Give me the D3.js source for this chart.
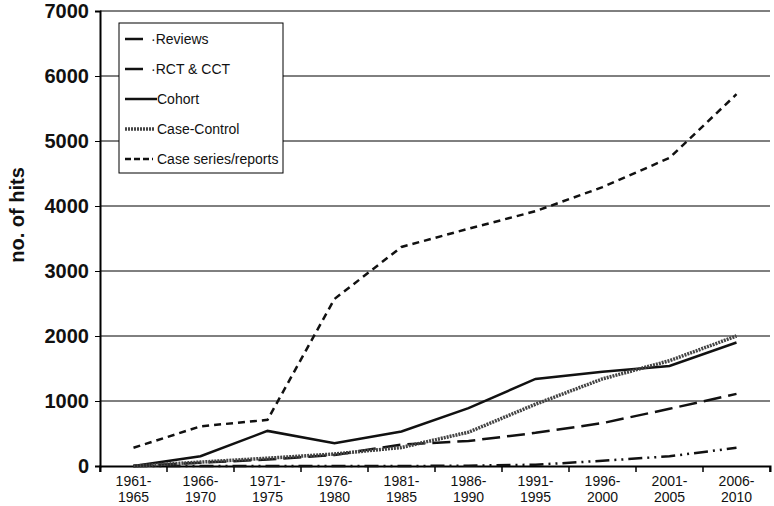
<!DOCTYPE html>
<html>
<head>
<meta charset="utf-8">
<script src="https://cdn.jsdelivr.net/npm/d3@7"></script>
<style>
  body { margin: 0; background: #fff; }
  text { font-family: "Liberation Sans", Arial, sans-serif; }
</style>
</head>
<body>
<script>
var periods = ["1961-1965", "1966-1970", "1971-1975", "1976-1980", "1981-1985",
               "1986-1990", "1991-1995", "1996-2000", "2001-2005", "2006-2010"];
var reviews     = [0, 0, 0, 0, 0, 5, 20, 80, 150, 280];
var rctCct      = [0, 50, 100, 170, 330, 385, 510, 660, 880, 1110];
var cohort      = [0, 150, 540, 350, 530, 890, 1340, 1450, 1540, 1900];
var caseControl = [0, 60, 120, 185, 285, 520, 950, 1340, 1620, 2000];
var caseSeries  = [280, 610, 710, 2570, 3370, 3650, 3920, 4290, 4740, 5720];
var yTicks = [0, 1000, 2000, 3000, 4000, 5000, 6000, 7000];

var series = [
  { name: "\u00b7Reviews", values: reviews, dash: "14,5,2,5,2,5", color: "#111", w: 2.5, key: 18 },
  { name: "\u00b7RCT & CCT", values: rctCct, dash: "18,7", color: "#111", w: 2.5, key: 18 },
  { name: "Cohort", values: cohort, dash: null, color: "#111", w: 2.5, key: 32 },
  { name: "Case-Control", values: caseControl, dash: "2,1", color: "#444", w: 3.5, key: 30 },
  { name: "Case series/reports", values: caseSeries, dash: "7,5", color: "#111", w: 2.5, key: 28 }
];

var margin = { top: 11, right: 4, bottom: 40, left: 100 },
    outerWidth = 774,
    outerHeight = 506,
    width = outerWidth - margin.left - margin.right,
    height = outerHeight - margin.top - margin.bottom;

var svg = d3.select("body").append("svg").attr("width", outerWidth).attr("height", outerHeight);
var g = svg.append("g").attr("transform", "translate(" + margin.left + "," + margin.top + ")");

var x = d3.scaleBand().domain(periods).range([0, width]);
var y = d3.scaleLinear().domain([0, 7000]).range([height, 0]);

// gridlines
g.append("g").selectAll("line").data(yTicks.filter(function (d) { return d > 0; })).enter()
  .append("line")
  .attr("x1", 0).attr("x2", width)
  .attr("y1", function (d) { return y(d); }).attr("y2", function (d) { return y(d); })
  .attr("stroke", "#000").attr("stroke-width", 1);

// y axis
var yAxis = d3.axisLeft(y).tickValues(yTicks).tickFormat(d3.format("d")).tickSize(5).tickPadding(6);
var yAxisGroup = g.append("g").call(yAxis);
yAxisGroup.select(".domain").attr("stroke-width", 2);
yAxisGroup.selectAll("text").attr("font-size", 20).attr("font-weight", "bold").attr("fill", "#111");

// x axis
var xAxis = d3.axisBottom(x).tickSize(6).tickFormat("");
var xAxisGroup = g.append("g").attr("transform", "translate(0," + height + ")").call(xAxis);
xAxisGroup.select(".domain").attr("stroke-width", 2);
xAxisGroup.selectAll(".tick").remove();
xAxisGroup.selectAll(".edge").data(d3.range(periods.length + 1)).enter()
  .append("line")
  .attr("x1", function (i) { return i * x.bandwidth(); })
  .attr("x2", function (i) { return i * x.bandwidth(); })
  .attr("y1", 0).attr("y2", 6).attr("stroke", "#000").attr("stroke-width", 1.5);

xAxisGroup.selectAll(".lbl").data(periods).enter()
  .append("text")
  .attr("text-anchor", "middle")
  .attr("font-size", 14)
  .attr("fill", "#111")
  .attr("transform", function (d) { return "translate(" + (x(d) + x.bandwidth() / 2) + ",0)"; })
  .each(function (d) {
    var parts = d.split("-");
    d3.select(this).append("tspan").attr("x", 0).attr("y", 20).text(parts[0] + "-");
    d3.select(this).append("tspan").attr("x", 0).attr("y", 36).text(parts[1]);
  });

// y label
svg.append("text")
  .attr("transform", "translate(24,215) rotate(-90)")
  .attr("text-anchor", "middle")
  .attr("font-size", 20).attr("font-weight", "bold").attr("fill", "#111")
  .text("no. of hits");

// lines
var line = d3.line()
  .x(function (d, i) { return x(periods[i]) + x.bandwidth() / 2; })
  .y(function (d) { return y(d); });

g.selectAll(".series").data(series).enter()
  .append("path")
  .attr("d", function (s) { return line(s.values); })
  .attr("fill", "none")
  .attr("stroke", function (s) { return s.color; })
  .attr("stroke-width", function (s) { return s.w; })
  .attr("stroke-dasharray", function (s) { return s.dash; });

// legend
var legend = svg.append("g").attr("transform", "translate(119,23)");
legend.append("rect").attr("width", 164).attr("height", 150)
  .attr("fill", "#fff").attr("stroke", "#000").attr("stroke-width", 1);
var item = legend.selectAll(".item").data(series).enter()
  .append("g").attr("transform", function (s, i) { return "translate(0," + (16 + i * 30) + ")"; });
item.append("line").attr("x1", 6).attr("x2", function (s) { return 6 + s.key; }).attr("y1", 0).attr("y2", 0)
  .attr("stroke", function (s) { return s.color; })
  .attr("stroke-width", function (s) { return s.w; })
  .attr("stroke-dasharray", function (s) { return s.name === "Case series/reports" ? "6,3" : (s.name === "Case-Control" ? s.dash : null); });
item.append("text").attr("x", function (s) { return s.name.charAt(0) === "\u00b7" ? 32 : 38; }).attr("y", 5)
  .attr("font-size", 14).attr("fill", "#111")
  .text(function (s) { return s.name; });
</script>
</body>
</html>
